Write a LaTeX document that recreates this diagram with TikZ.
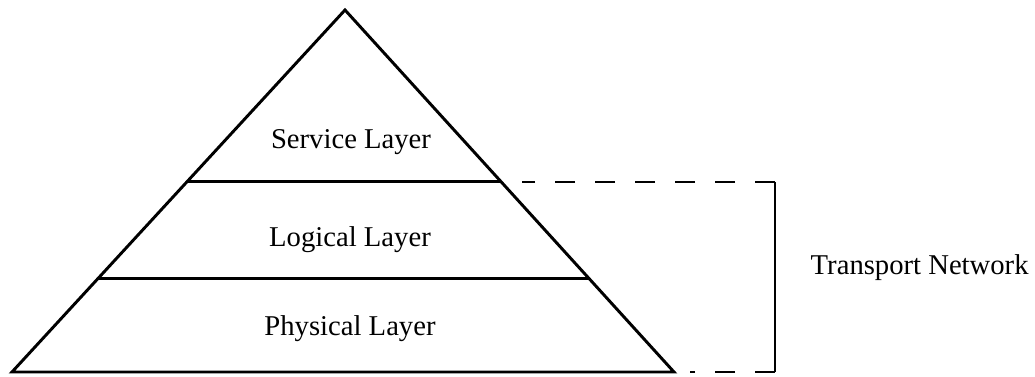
\documentclass[tikz,border=0pt]{standalone}
\usepackage{fontspec}
\setmainfont{Liberation Serif}
\usetikzlibrary{calc}

\begin{document}
\begin{tikzpicture}[x=0.75pt, y=-0.75pt, color=black,
    layer/.style={font=\fontsize{21.5}{25}\selectfont},
    edge/.style={line width=2.2pt, line join=miter},
    bracket/.style={line width=1.9pt, dash pattern=on 15pt off 15pt}]
  \useasboundingbox (0,0) rectangle (1035,377);
  % Pyramid outline
  \coordinate (apex) at (345,10);
  \coordinate (bl) at (12,372);
  \coordinate (br) at (674,372);
  \draw[edge] (bl) -- (apex) -- (br) -- cycle;
  % Layer boundaries
  \coordinate (l1) at ($(apex)!0.475!(bl)$);
  \coordinate (r1) at ($(apex)!0.475!(br)$);
  \coordinate (l2) at ($(apex)!0.743!(bl)$);
  \coordinate (r2) at ($(apex)!0.743!(br)$);
  \draw[edge] (l1) -- (r1);
  \draw[edge] (l2) -- (r2);
  % Layer labels
  \node[layer] (service) at (351,142) {Service Layer};
  \node[layer] (logical) at (350,240) {Logical Layer};
  \node[layer] (physical) at (350,329) {Physical Layer};
  % Bracket for the transport network
  \coordinate (btop) at (775,182);
  \coordinate (bbot) at (775,372);
  \draw[bracket] (btop) -- (522,182);
  \draw[line width=1.9pt] (btop) -- (bbot);
  \draw[bracket] (bbot) -- (690,372);
  \node[layer, anchor=west] (transport) at (806,268) {Transport Network};
\end{tikzpicture}
\end{document}
